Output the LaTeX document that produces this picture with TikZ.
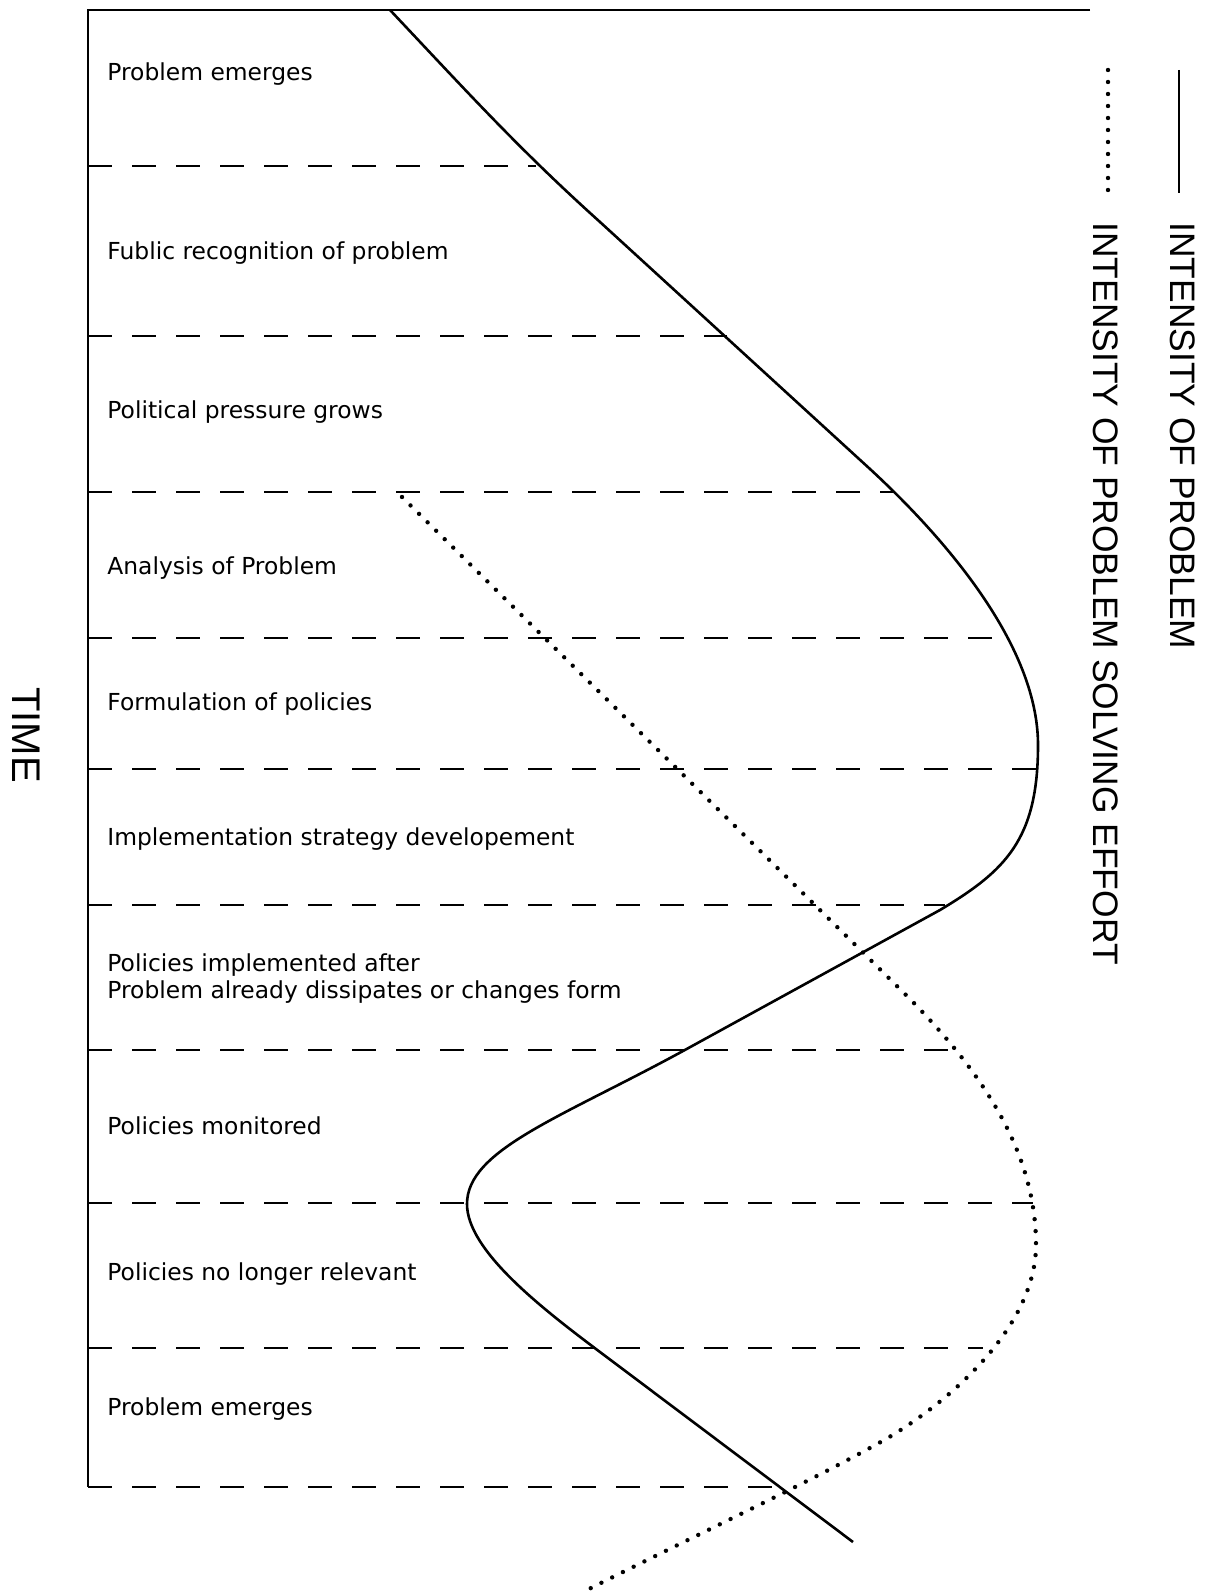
\documentclass[tikz,border=0pt]{standalone}
\usepackage{fontspec}
\setmainfont{DejaVu Sans}
\newfontfamily\keyfont{Liberation Sans}
\usepackage{tikz}
\usetikzlibrary{positioning}
\tikzstyle{stage} = [anchor=base west, inner sep=0pt,
    font=\fontsize{11.7}{13.5}\selectfont]
\tikzstyle{key} = [anchor=west, rotate=-90, inner sep=0pt,
    font=\keyfont\fontsize{17.7}{20}\selectfont]
\tikzstyle{bound} = [line width=0.8pt, dash pattern=on 12pt off 10pt]
\tikzstyle{problem} = [line width=1.3pt, line join=round]
\tikzstyle{effort} = [line width=2.2pt, line cap=round,
    dash pattern=on 0pt off 6pt]

\begin{document}
\begin{tikzpicture}[x=0.5pt, y=-0.5pt]
    \useasboundingbox (0,0) rectangle (1204,1594);
    % Frame
    \draw [line width=1pt] (1090,10) -- (88,10) -- (88,1487);
    % Place nodes
    \node [stage] (emerge) at (107,81) {Problem emerges};
    \node [stage] (recog) at (107,259) {Fublic recognition of problem};
    \node [stage] (pressure) at (107,418) {Political pressure grows};
    \node [stage] (analysis) at (107,574) {Analysis of Problem};
    \node [stage] (formul) at (107,710) {Formulation of policies};
    \node [stage] (strategy) at (107,845)
    {Implementation strategy developement};
    \node [stage] (implem) at (107,971) {Policies implemented after};
    \node [stage] (dissip) at (107,998)
    {Problem already dissipates or changes form};
    \node [stage] (monitor) at (107,1134) {Policies monitored};
    \node [stage] (irrelev) at (107,1280) {Policies no longer relevant};
    \node [stage] (reemerge) at (107,1415) {Problem emerges};
    \node [key] (probkey) at (1183,222) {INTENSITY OF PROBLEM};
    \node [key] (effortkey) at (1106,222)
    {INTENSITY OF PROBLEM SOLVING EFFORT};
    \node [rotate=-90, inner sep=0pt, font=\keyfont\fontsize{20}{24}\selectfont]
    (time) at (26,735) {TIME};
    % Stage boundaries
    \draw [bound] (88,166) -- (536,166);
    \draw [bound] (88,336) -- (727,336);
    \draw [bound] (88,492) -- (893,492);
    \draw [bound] (88,638) -- (1003,638);
    \draw [bound] (88,769) -- (1037,769);
    \draw [bound] (88,905) -- (945,905);
    \draw [bound] (88,1050) -- (952,1050);
    \draw [bound] (88,1203) -- (1033,1203);
    \draw [bound] (88,1348) -- (983,1348);
    \draw [bound] (88,1487) -- (780,1487);
    % Draw curves
    \draw [problem] (390,10) .. controls (470,95) and (520,150) .. (600,222)
        -- (870,469) .. controls (935,529) and (1038,640) .. (1038,745)
        .. controls (1038,840) and (1005,871) .. (940,910)
        -- (683,1051) .. controls (560,1118) and (467,1150) .. (467,1204)
        .. controls (467,1250) and (540,1307) .. (600,1352)
        -- (853,1542);
    \draw [effort] (402,497) -- (908,997)
        .. controls (980,1070) and (1036,1150) .. (1036,1245)
        .. controls (1036,1320) and (962,1394) .. (886,1439)
        .. controls (810,1482) and (700,1533) .. (587,1590);
    % Legend keys
    \draw [problem] (1179,70) -- (1179,193);
    \draw [effort] (1108,70) -- (1108,190);
\end{tikzpicture}
\end{document}
